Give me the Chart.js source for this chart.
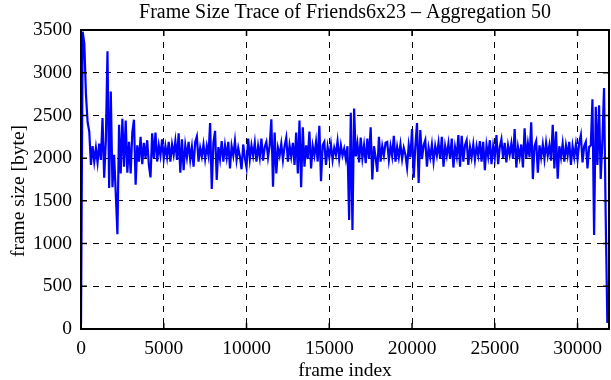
<!DOCTYPE html>
<html>
<head>
<meta charset="utf-8">
<script src="https://cdn.jsdelivr.net/npm/chart.js@4.4.1/dist/chart.umd.min.js"></script>
<style>
  html, body { margin: 0; padding: 0; background: #ffffff; }
  #wrap { width: 611px; height: 380px; }
</style>
</head>
<body>
<div id="wrap"><canvas id="traceChart" width="611" height="380"></canvas></div>
<script>
// frame sizes [byte], one value every 100 frames
const frameSizes = [
  60, 3480, 3340, 2740, 2420, 2310, 1920, 2140, 1960, 2120,
  1950, 2170, 1980, 2470, 1770, 2200, 3250, 1650, 2780, 1660,
  2040, 1590, 1110, 2390, 1820, 2460, 1900, 2440, 1830, 2190,
  1820, 2300, 2450, 1690, 2150, 1960, 2250, 1930, 2180, 2000,
  2210, 1920, 1775, 2290, 2000, 2300, 1960, 2150, 2030, 2220,
  1990, 2140, 2010, 2190, 1960, 2160, 2040, 2200, 1980, 2290,
  1830, 2220, 1860, 2150, 2010, 2190, 1980, 2130, 1900, 2190,
  2255, 1960, 2120, 2020, 2160, 1990, 2140, 2030, 2410, 1640,
  2180, 2320, 1745, 2130, 1990, 2200, 1960, 2150, 2010, 2190,
  1880, 2140, 2030, 2200, 1980, 2120, 2020, 1870, 2160, 2000,
  1890, 2230, 1990, 2150, 2030, 2180, 1960, 2140, 2010, 2230,
  1970, 2130, 2190, 2010, 2150, 2455, 1665, 2300, 1820, 2120,
  2030, 2170, 1980, 2140, 2240, 1960, 2150, 2020, 2180, 1920,
  2300, 1820, 2440, 1660, 2360, 1900, 2150, 1990, 2310, 1880,
  2140, 2030, 2190, 1960, 2380, 1730, 2150, 2190, 1920, 2130,
  2010, 2160, 1980, 2120, 2040, 2200, 1990, 2150, 2030, 2110,
  1990, 2140, 1275, 2530, 1160, 2580, 2020, 2170, 1950, 2240,
  2000, 2150, 1940, 2230, 1990, 2360, 1750, 2140, 2010, 1840,
  2250, 1960, 2140, 2030, 2180, 2190, 1980, 2140, 2020, 2260,
  1960, 2130, 2010, 2160, 1990, 2120, 2040, 1890, 2150, 2010,
  2340, 1770, 2140, 2410, 1710, 2330, 1990, 2150, 2210, 1900,
  2120, 2010, 2160, 1960, 2140, 2030, 2180, 1990, 2250, 1900,
  2140, 2030, 2170, 1990, 2230, 1890, 2130, 2020, 2270, 1900,
  2260, 1960, 2150, 2210, 1920, 2130, 2010, 2160, 1980, 2140,
  2030, 2200, 1960, 2190, 1860, 2150, 2020, 2210, 1930, 2140,
  2010, 2270, 1930, 2130, 2220, 2000, 2180, 1950, 2150, 2040,
  2170, 1990, 2340, 1890, 2130, 2010, 2160, 1890, 2350, 2000,
  2170, 2010, 2420, 1755, 2140, 2200, 1830, 2150, 2010, 2160,
  1990, 2180, 2030, 2150, 1970, 2390, 1880, 2310, 1760, 2140,
  2010, 2170, 1960, 2150, 2030, 2190, 1920, 2140, 2010, 2160,
  1990, 2180, 2270, 1950, 2140, 2190, 1880, 2130, 2150, 2690,
  1100, 2600, 1920, 2620, 1755, 2200, 2820, 1320, 70
];
const frameStep = 100;
const frameIndex = frameSizes.map((_, i) => i * frameStep);

const xTicks = [0, 5000, 10000, 15000, 20000, 25000, 30000];
const yTicks = [0, 500, 1000, 1500, 2000, 2500, 3000, 3500];

const serif = "'Liberation Serif', 'DejaVu Serif', serif";
const yTitle = "frame size [byte]";

// inward tick marks on all four sides, the frame box and the y title
const frameBox = {
  id: "frameBox",
  afterDraw(chart) {
    const { ctx, chartArea: a, scales } = chart;
    const len = 6;
    ctx.save();
    ctx.strokeStyle = "#000";
    ctx.lineWidth = 1.5;
    ctx.setLineDash([]);
    ctx.beginPath();
    xTicks.forEach((v) => {
      const px = scales.x.getPixelForValue(v);
      ctx.moveTo(px, a.bottom);
      ctx.lineTo(px, a.bottom - len);
      ctx.moveTo(px, a.top);
      ctx.lineTo(px, a.top + len);
    });
    yTicks.forEach((v) => {
      const py = scales.y.getPixelForValue(v);
      ctx.moveTo(a.left, py);
      ctx.lineTo(a.left + len, py);
      ctx.moveTo(a.right, py);
      ctx.lineTo(a.right - len, py);
    });
    ctx.stroke();
    ctx.lineWidth = 2;
    ctx.strokeRect(a.left, a.top, a.right - a.left, a.bottom - a.top);

    ctx.translate(19, 191);
    ctx.rotate(-Math.PI / 2);
    ctx.fillStyle = "#000";
    ctx.font = "19.5px " + serif;
    ctx.textAlign = "center";
    ctx.textBaseline = "middle";
    ctx.fillText(yTitle, 0, 0);
    ctx.restore();
  },
};

new Chart(document.getElementById("traceChart"), {
  type: "line",
  data: {
    labels: frameIndex,
    datasets: [
      {
        data: frameSizes.map((v, i) => ({ x: frameIndex[i], y: v })),
        borderColor: "#0000ff",
        borderWidth: 2.2,
        pointRadius: 0,
        tension: 0,
        fill: false,
      },
    ],
  },
  options: {
    responsive: false,
    animation: false,
    layout: { padding: { left: 0, right: 2, top: 0, bottom: 0 } },
    plugins: {
      legend: { display: false },
      tooltip: { enabled: false },
      title: {
        display: true,
        fullSize: false,
        text: "Frame Size Trace of Friends6x23 \u2013 Aggregation 50",
        color: "#000",
        font: { family: serif, size: 20, weight: "normal" },
        padding: { top: 1, bottom: 5 },
      },
    },
    scales: {
      x: {
        type: "linear",
        min: 0,
        max: 31900,
        afterBuildTicks(scale) {
          scale.ticks = xTicks.map((v) => ({ value: v }));
        },
        afterFit(scale) {
          scale.height = 51;
        },
        grid: { color: "#000", lineWidth: 1, drawTicks: false },
        border: { display: false, dash: [6, 6] },
        ticks: {
          color: "#000",
          padding: 8,
          maxRotation: 0,
          font: { family: serif, size: 19.5 },
          callback: (v) => String(v),
        },
        title: {
          display: true,
          text: "frame index",
          color: "#000",
          padding: { top: 0, bottom: 0 },
          font: { family: serif, size: 19.5, lineHeight: 0.9 },
        },
      },
      y: {
        min: 0,
        max: 3500,
        afterBuildTicks(scale) {
          scale.ticks = yTicks.map((v) => ({ value: v }));
        },
        afterFit(scale) {
          scale.width = 81;
        },
        grid: { color: "#000", lineWidth: 1, drawTicks: false },
        border: { display: false, dash: [6, 6] },
        ticks: {
          color: "#000",
          padding: 9,
          font: { family: serif, size: 19.5 },
          callback: (v) => String(v),
        },
      },
    },
  },
  plugins: [frameBox],
});
</script>
</body>
</html>
